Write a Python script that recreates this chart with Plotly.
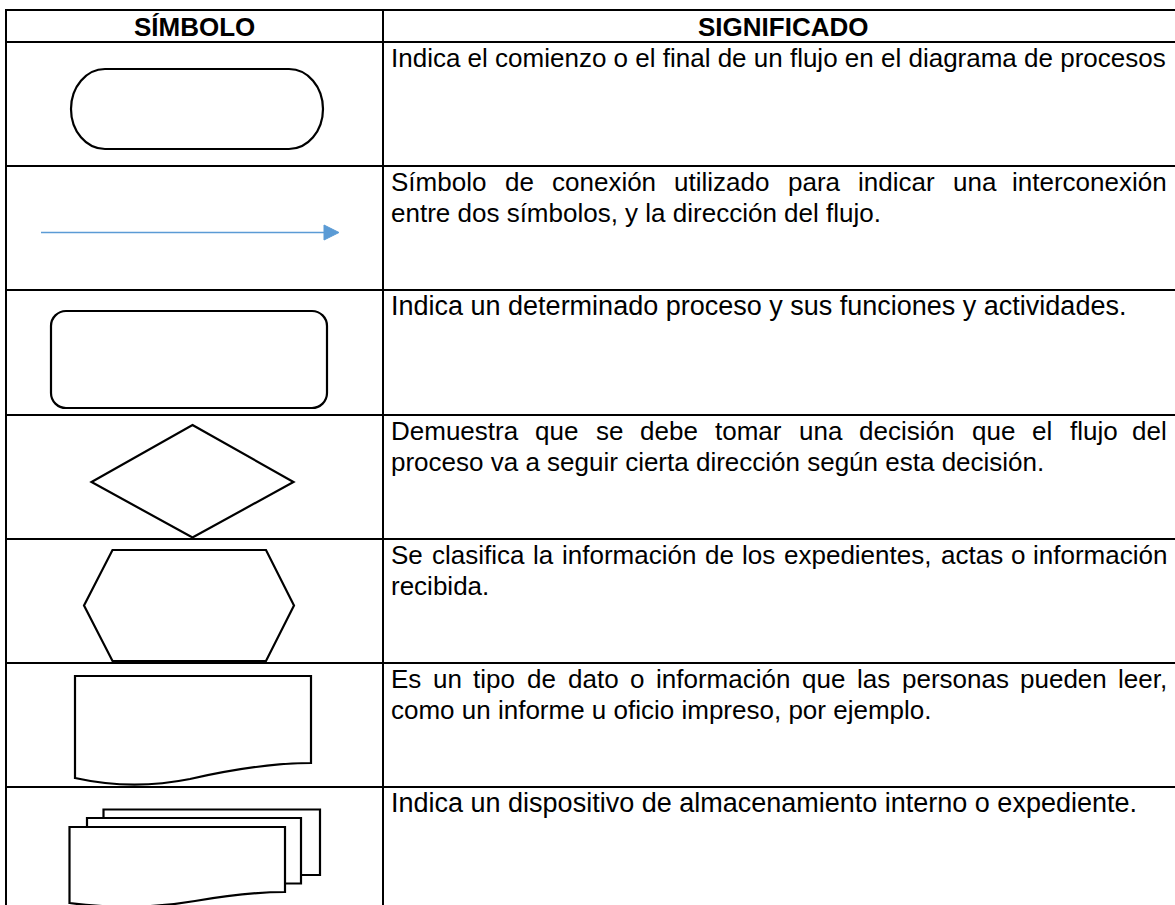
import plotly.graph_objects as go

# ---------------- data ----------------
headers = ["SÍMBOLO", "SIGNIFICADO"]
symbols = ["terminal", "flecha", "proceso", "decision", "preparacion", "documento", "multidocumento"]
descriptions = [
    ["Indica el comienzo o el final de un flujo en el diagrama de procesos"],
    ["Símbolo de conexión utilizado para indicar una interconexión",
     "entre dos símbolos, y la dirección del flujo."],
    ["Indica un determinado proceso y sus funciones y actividades."],
    ["Demuestra que se debe tomar una decisión que el flujo del",
     "proceso va a seguir cierta dirección según esta decisión."],
    ["Se clasifica la información de los expedientes, actas o información",
     "recibida."],
    ["Es un tipo de dato o información que las personas pueden leer,",
     "como un informe u oficio impreso, por ejemplo."],
    ["Indica un dispositivo de almacenamiento interno o expediente."],
]
justified = [[False], [True, False], [False], [True, False], [True, False], [True, False], [False]]

# ---------------- layout constants ----------------
W, H = 1175, 905
TABLE_TOP = 10
HEADER_BOTTOM = 42
ROW_H = 124.2
X_LEFT = 6
X_DIV = 383
TEXT_X0 = 390
TEXT_X1 = 1168
FS = 26
FONT = "Liberation Sans, Arial, sans-serif"
LINE_W = 2
# rows whose text renders slightly wider in the source
ROW_FS = {2: 27, 6: 27}

# Arial / Liberation Sans advance widths (1/1000 em)
AW = {c: 556 for c in "abdeghnopquáéóúñ"}
AW.update({"c": 500, "f": 278, "i": 222, "j": 222, "k": 500, "l": 222, "m": 833, "r": 333,
           "s": 500, "t": 278, "v": 500, "w": 722, "x": 500, "y": 500, "z": 500,
           "í": 278, " ": 278, ",": 278, ".": 278, "S": 667, "D": 722, "E": 667, "I": 278})


def text_w(s):
    return sum(AW.get(c, 556) for c in s) * FS / 1000.0


fig = go.Figure()
shapes = []
annotations = []

# ---------------- table grid ----------------
row_lines = [round(HEADER_BOTTOM + i * ROW_H) for i in range(len(symbols))]
for yv in [TABLE_TOP] + row_lines:
    shapes.append(dict(type="line", x0=X_LEFT - 1, x1=W + 5, y0=yv, y1=yv,
                       line=dict(color="black", width=LINE_W)))
for xv in [X_LEFT, X_DIV]:
    shapes.append(dict(type="line", x0=xv, x1=xv, y0=TABLE_TOP - 1, y1=H + 10,
                       line=dict(color="black", width=LINE_W)))

# ---------------- headers ----------------
for htxt, xc in zip(headers, [(X_LEFT + X_DIV) / 2, (X_DIV + W + 8) / 2]):
    annotations.append(dict(x=xc, y=27, text="<b>" + htxt + "</b>", showarrow=False,
                            xanchor="center", yanchor="middle",
                            font=dict(family=FONT, size=FS, color="black")))


def word_line(words, x_end, yb):
    ws = [text_w(w) for w in words]
    gap = (x_end - TEXT_X0 - sum(ws)) / (len(words) - 1)
    xc = TEXT_X0
    for k, (w, wd) in enumerate(zip(words, ws)):
        last = k == len(words) - 1
        annotations.append(dict(x=x_end if last else xc, y=yb, text=w, showarrow=False,
                                xanchor="right" if last else "left", yanchor="middle",
                                borderpad=0, font=dict(family=FONT, size=FS, color="black")))
        xc += wd + gap


# ---------------- descriptions ----------------
for r, (lines, just) in enumerate(zip(descriptions, justified)):
    top = row_lines[r]
    for li, (ln, j) in enumerate(zip(lines, just)):
        yb = top + 24.5 + li * 31.5 - 9
        if j:
            word_line(ln.split(" "), TEXT_X1, yb)
        else:
            annotations.append(dict(x=TEXT_X0, y=yb, text=ln, showarrow=False,
                                    xanchor="left", yanchor="middle", borderpad=0,
                                    font=dict(family=FONT, size=ROW_FS.get(r, FS), color="black")))

# ---------------- symbols ----------------
K = 0.5523


def rrect(x0, y0, x1, y1, rx, ry):
    return (f"M{x0+rx},{y0} L{x1-rx},{y0} "
            f"C{x1-rx+K*rx},{y0} {x1},{y0+ry-K*ry} {x1},{y0+ry} L{x1},{y1-ry} "
            f"C{x1},{y1-ry+K*ry} {x1-rx+K*rx},{y1} {x1-rx},{y1} L{x0+rx},{y1} "
            f"C{x0+rx-K*rx},{y1} {x0},{y1-ry+K*ry} {x0},{y1-ry} L{x0},{y0+ry} "
            f"C{x0},{y0+ry-K*ry} {x0+rx-K*rx},{y0} {x0+rx},{y0} Z")


blk = dict(color="black", width=2.2)
# terminal
shapes.append(dict(type="path", path=rrect(71, 69, 323, 149, 34, 40), line=blk, fillcolor="white"))
# arrow
blue = "#5B9BD5"
shapes.append(dict(type="line", x0=41, x1=326, y0=232.5, y1=232.5, line=dict(color=blue, width=1.6)))
shapes.append(dict(type="path", path="M324,225 L339,232.5 L324,240 Z", line=dict(color=blue, width=1),
                   fillcolor=blue))
# process
shapes.append(dict(type="path", path=rrect(51, 311, 327, 408, 15, 15), line=blk, fillcolor="white"))
# decision
shapes.append(dict(type="path", path="M192.5,425 L293.5,482 L192.5,537.5 L91.5,482 Z", line=blk,
                   fillcolor="white"))
# preparation (hexagon)
shapes.append(dict(type="path", path="M112.5,550 L266,550 L294,605.5 L266,661 L112.5,661 L84,605.5 Z",
                   line=blk, fillcolor="white"))
# document
shapes.append(dict(type="path",
                   path="M75,676 L311,676 L311,763 C270,763 230,770 190,779 C160,785 120,788 75,778 Z",
                   line=blk, fillcolor="white"))
# multidocument
shapes.append(dict(type="path", path="M103.5,809.5 L320,809.5 L320,875 L103.5,875 Z", line=blk, fillcolor="white"))
shapes.append(dict(type="path", path="M87,818 L301,818 L301,883.5 L87,883.5 Z", line=blk, fillcolor="white"))
shapes.append(dict(type="path",
                   path="M69.5,827 L285,827 L285,892 C255,892 225,896 195,901 C160,907 115,909 69.5,903 Z",
                   line=blk, fillcolor="white"))

fig.update_layout(
    width=W, height=H,
    margin=dict(l=0, r=0, t=0, b=0),
    paper_bgcolor="white", plot_bgcolor="white",
    xaxis=dict(range=[0, W], visible=False, showgrid=False, zeroline=False, fixedrange=True),
    yaxis=dict(range=[H, 0], visible=False, showgrid=False, zeroline=False, fixedrange=True),
    shapes=shapes, annotations=annotations, showlegend=False,
)

fig.write_html("out.html", config={"displayModeBar": False},
               post_script="document.body.style.margin='0px';")
